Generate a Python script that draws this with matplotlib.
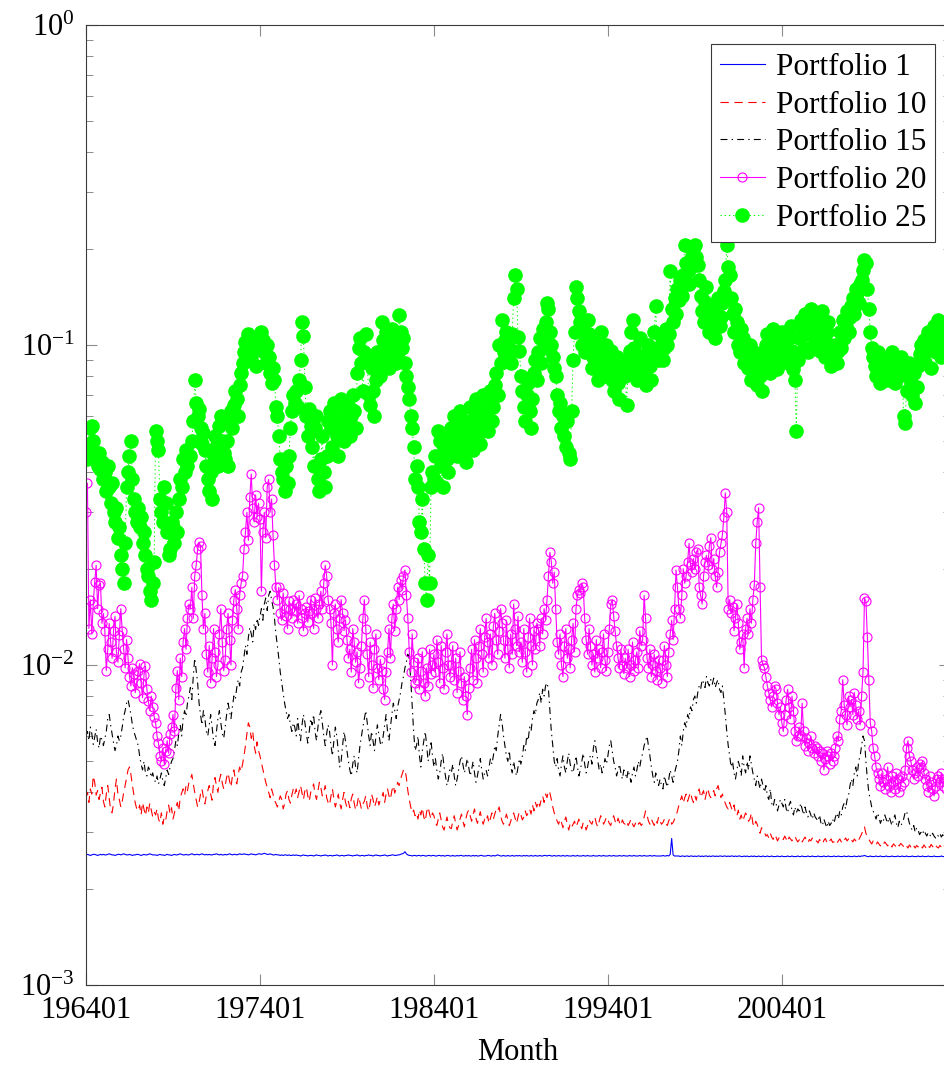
import matplotlib
matplotlib.use("Agg")
import matplotlib.pyplot as plt
import numpy as np
from matplotlib.ticker import NullLocator

# Monthly values from 196401 onward; each row is one calendar year.
# Units: p1, p10, p15 in 1e-5; p20 in 1e-4; p25 in 1e-3.
p1 = [
    255, 256, 255, 254, 255, 256, 256, 255, 254, 255, 256, 255,
    256, 255, 255, 256, 257, 256, 255, 255, 254, 255, 256, 256,
    255, 256, 257, 256, 255, 255, 256, 255, 254, 255, 255, 256,
    256, 255, 254, 255, 256, 255, 255, 256, 257, 256, 255, 255,
    255, 254, 255, 256, 255, 255, 254, 255, 256, 255, 255, 254,
    255, 256, 255, 255, 256, 257, 256, 255, 255, 256, 255, 255,
    256, 257, 256, 255, 256, 256, 255, 256, 257, 256, 255, 256,
    255, 256, 255, 255, 256, 256, 257, 256, 255, 256, 255, 255,
    256, 255, 256, 257, 256, 255, 256, 256, 255, 256, 257, 256,
    256, 257, 256, 256, 255, 256, 257, 256, 256, 255, 256, 257,
    257, 256, 257, 258, 257, 256, 256, 257, 256, 255, 255, 256,
    255, 255, 254, 255, 254, 255, 255, 254, 255, 254, 254, 255,
    254, 255, 254, 254, 253, 254, 255, 254, 254, 253, 254, 254,
    254, 253, 254, 255, 254, 254, 253, 254, 254, 255, 254, 253,
    254, 254, 253, 254, 254, 255, 254, 253, 254, 254, 253, 254,
    254, 255, 254, 254, 253, 254, 254, 255, 254, 253, 254, 254,
    253, 254, 254, 255, 254, 254, 253, 254, 255, 254, 254, 253,
    254, 254, 255, 254, 253, 254, 254, 255, 255, 254, 254, 255,
    255, 256, 257, 258, 261, 257, 255, 254, 254, 253, 254, 254,
    253, 254, 254, 253, 254, 254, 253, 253, 254, 254, 253, 254,
    254, 253, 253, 254, 254, 253, 254, 253, 253, 254, 254, 253,
    253, 254, 253, 253, 254, 253, 254, 254, 253, 253, 254, 253,
    254, 253, 253, 254, 253, 254, 253, 253, 254, 254, 253, 253,
    253, 254, 254, 253, 253, 254, 253, 254, 255, 254, 253, 253,
    254, 253, 253, 254, 253, 253, 254, 253, 253, 254, 253, 254,
    253, 253, 254, 253, 254, 253, 253, 254, 253, 253, 254, 253,
    253, 254, 253, 253, 254, 254, 253, 254, 254, 253, 253, 254,
    253, 253, 254, 253, 253, 254, 253, 253, 254, 253, 253, 253,
    254, 253, 253, 254, 253, 253, 253, 254, 253, 253, 254, 253,
    253, 253, 254, 253, 253, 253, 254, 253, 253, 254, 253, 253,
    253, 254, 253, 253, 254, 253, 253, 253, 254, 253, 253, 254,
    253, 253, 253, 254, 253, 253, 254, 253, 253, 253, 254, 253,
    253, 254, 253, 253, 253, 254, 253, 253, 254, 253, 253, 253,
    253, 253, 254, 253, 253, 254, 253, 256, 287, 255, 253, 253,
    253, 253, 252, 253, 253, 252, 253, 253, 252, 253, 253, 252,
    253, 252, 253, 253, 252, 253, 252, 253, 253, 252, 253, 252,
    253, 253, 252, 253, 252, 253, 253, 252, 253, 253, 252, 253,
    252, 253, 253, 252, 253, 252, 253, 253, 252, 252, 253, 252,
    253, 252, 252, 253, 252, 253, 252, 252, 253, 252, 252, 253,
    252, 252, 253, 252, 252, 253, 252, 252, 252, 253, 252, 252,
    253, 252, 252, 252, 253, 252, 252, 253, 252, 252, 252, 253,
    252, 252, 253, 252, 252, 252, 253, 252, 252, 253, 252, 252,
    252, 253, 252, 252, 252, 253, 252, 252, 253, 252, 252, 252,
    253, 252, 252, 253, 252, 252, 252, 253, 252, 252, 253, 252,
    252, 252, 253, 252, 252, 253, 252, 253, 253, 254, 253, 252,
    252, 253, 252, 252, 252, 253, 252, 252, 253, 252, 252, 252,
    253, 252, 252, 252, 253, 252, 252, 252, 253, 252, 252, 253,
    252, 252, 253, 252, 252, 252, 253, 252, 252, 252, 253, 252,
    252, 253, 252, 252, 252, 253, 252, 252, 252, 253, 252, 252,
    252, 252, 253, 252, 252, 252,
]

p10 = [
    385, 400, 372, 410, 395, 450, 430, 392, 405, 380, 398, 415,
    375, 360, 395, 420, 385, 350, 345, 370, 410, 440, 395, 380,
    360, 375, 400, 420, 445, 470, 480, 455, 420, 395, 370, 355,
    350, 365, 340, 372, 355, 338, 360, 345, 370, 352, 336, 348,
    340, 355, 330, 322, 345, 318, 335, 328, 350, 365, 342, 358,
    330, 345, 360, 372, 350, 385, 398, 410, 392, 420, 405, 430,
    440, 455, 425, 400, 380, 360, 372, 395, 410, 385, 368, 390,
    405, 420, 395, 378, 430, 445, 418, 400, 436, 455, 428, 410,
    420, 445, 460, 435, 415, 450, 470, 440, 425, 455, 480, 465,
    490, 520, 560, 610, 660, 640, 590, 620, 560, 530, 575, 540,
    520, 495, 470, 450, 430, 415, 400, 385, 410, 395, 378, 370,
    360, 375, 390, 380, 355, 368, 395, 405, 380, 370, 392, 410,
    395, 410, 385, 402, 420, 398, 380, 405, 415, 390, 375, 400,
    410, 425, 395, 380, 405, 430, 415, 390, 400, 420, 385, 372,
    365, 390, 410, 380, 360, 375, 395, 370, 355, 380, 400, 372,
    360, 375, 358, 382, 395, 370, 352, 365, 388, 372, 355, 368,
    375, 390, 362, 350, 370, 395, 380, 360, 372, 388, 365, 378,
    385, 400, 372, 395, 410, 390, 380, 405, 420, 398, 412, 430,
    420, 440, 455, 470, 472, 445, 405, 380, 360, 345, 352, 338,
    345, 330, 352, 340, 358, 335, 325, 348, 360, 342, 330, 345,
    338, 322, 315, 330, 345, 328, 312, 305, 320, 335, 318, 310,
    308, 325, 338, 320, 305, 315, 330, 342, 325, 312, 330, 345,
    352, 338, 325, 340, 355, 332, 320, 335, 348, 328, 318, 330,
    325, 338, 320, 332, 345, 330, 342, 355, 350, 360, 338, 325,
    318, 330, 342, 328, 315, 325, 338, 345, 332, 320, 335, 348,
    340, 328, 335, 350, 338, 345, 355, 342, 365, 350, 372, 360,
    375, 362, 380, 390, 372, 395, 385, 405, 398, 380, 360, 345,
    338, 325, 318, 330, 322, 310, 325, 335, 318, 305, 320, 312,
    318, 325, 312, 320, 330, 315, 308, 322, 318, 305, 315, 328,
    322, 318, 330, 335, 320, 312, 325, 338, 330, 318, 325, 335,
    328, 320, 315, 330, 338, 325, 318, 332, 322, 315, 328, 320,
    318, 325, 315, 322, 330, 318, 312, 320, 326, 318, 322, 315,
    320, 335, 350, 340, 325, 318, 330, 322, 315, 328, 320, 335,
    325, 318, 322, 330, 320, 315, 326, 332, 318, 322, 330, 338,
    350, 365, 378, 390, 370, 385, 395, 375, 388, 400, 382, 372,
    390, 378, 400, 410, 385, 395, 405, 380, 398, 412, 392, 385,
    395, 405, 390, 410, 420, 400, 385, 395, 380, 370, 360, 355,
    372, 360, 350, 365, 345, 338, 352, 330, 340, 325, 335, 345,
    338, 325, 330, 345, 320, 312, 325, 318, 305, 298, 310, 302,
    300, 292, 295, 288, 298, 290, 285, 295, 290, 282, 288, 292,
    288, 285, 292, 286, 280, 290, 286, 282, 288, 292, 285, 280,
    284, 288, 280, 285, 290, 283, 278, 285, 282, 288, 284, 280,
    282, 278, 285, 280, 276, 283, 287, 280, 276, 282, 286, 279,
    280, 284, 278, 282, 286, 280, 277, 283, 288, 282, 286, 290,
    284, 280, 286, 282, 288, 284, 290, 296, 305, 312, 298, 290,
    286, 280, 276, 282, 278, 274, 280, 276, 272, 278, 275, 280,
    276, 272, 278, 274, 270, 276, 273, 269, 275, 272, 277, 274,
    271, 276, 272, 268, 274, 270, 276, 272, 268, 273, 270, 275,
    272, 268, 274, 270, 266, 272, 269, 275, 271, 267, 273, 270,
    268, 273, 270, 266, 272, 269,
]

p15 = [
    600, 620, 580, 640, 610, 565, 595, 630, 575, 550, 600, 585,
    560, 590, 620, 680, 700, 650, 610, 570, 540, 560, 600, 580,
    600, 640, 690, 720, 760, 780, 740, 700, 650, 620, 600, 580,
    560, 520, 490, 470, 500, 460, 450, 480, 470, 445, 460, 440,
    430, 450, 425, 440, 460, 435, 420, 445, 470, 455, 480, 500,
    510, 540, 580, 560, 610, 650, 600, 680, 720, 690, 760, 800,
    850, 780, 920, 1050, 960, 880, 760, 700, 650, 720, 680, 620,
    600, 650, 700, 640, 580, 560, 620, 680, 720, 660, 610, 590,
    640, 700, 760, 720, 680, 740, 800, 780, 850, 900, 860, 950,
    980, 1060, 1150, 1080, 1220, 1310, 1250, 1180, 1350, 1290, 1400, 1330,
    1420, 1500, 1380, 1550, 1620, 1480, 1650, 1700, 1600, 1520, 1400, 1250,
    1150, 1050, 950, 880, 820, 760, 720, 680, 700, 650, 620, 660,
    640, 600, 680, 620, 580, 650, 700, 660, 610, 570, 620, 680,
    650, 700, 620, 580, 640, 690, 720, 660, 600, 560, 610, 650,
    620, 560, 520, 580, 640, 600, 540, 480, 500, 560, 620, 580,
    540, 500, 470, 450, 490, 520, 480, 460, 510, 560, 600, 640,
    680, 720, 660, 600, 560, 620, 580, 540, 600, 650, 610, 570,
    560, 600, 650, 700, 620, 580, 640, 700, 760, 720, 680, 740,
    780, 820, 880, 920, 980, 1020, 1080, 1050, 900, 750, 620, 540,
    560, 600, 520, 480, 540, 580, 620, 560, 500, 530, 580, 520,
    480, 510, 470, 440, 460, 500, 530, 480, 450, 420, 440, 470,
    460, 490, 450, 420, 440, 470, 500, 520, 490, 460, 480, 510,
    480, 450, 470, 500, 460, 430, 450, 480, 510, 470, 440, 460,
    470, 450, 480, 510, 490, 520, 560, 540, 600, 650, 700, 660,
    600, 560, 520, 500, 540, 480, 460, 500, 470, 450, 480, 510,
    490, 520, 560, 540, 600, 580, 640, 620, 680, 720, 700, 760,
    780, 820, 760, 840, 800, 860, 880, 840, 720, 620, 560, 500,
    480, 510, 470, 450, 490, 520, 480, 460, 500, 530, 490, 470,
    460, 490, 520, 480, 450, 470, 500, 530, 490, 460, 480, 510,
    520, 490, 550, 580, 540, 500, 470, 490, 460, 480, 510, 490,
    520, 560, 580, 540, 500, 480, 450, 470, 490, 460, 440, 470,
    460, 440, 470, 450, 430, 460, 480, 450, 470, 500, 480, 510,
    530, 560, 580, 600, 560, 520, 480, 450, 430, 460, 440, 420,
    440, 420, 410, 450, 430, 415, 440, 470, 450, 430, 460, 480,
    500, 540, 600, 560, 620, 660, 640, 700, 680, 740, 720, 780,
    800, 760, 820, 860, 840, 900, 880, 850, 920, 880, 860, 900,
    870, 910, 850, 880, 900, 840, 820, 860, 780, 700, 620, 560,
    520, 480, 500, 460, 440, 470, 500, 480, 450, 520, 480, 460,
    500, 470, 520, 490, 460, 440, 420, 450, 430, 410, 440, 420,
    400, 420, 390, 380, 410, 370, 360, 380, 370, 350, 365, 380,
    370, 360, 380, 355, 345, 365, 375, 350, 340, 360, 345, 355,
    350, 370, 355, 340, 360, 345, 335, 350, 340, 330, 345, 335,
    330, 325, 340, 320, 315, 330, 320, 310, 325, 315, 320, 330,
    320, 335, 345, 330, 350, 340, 360, 370, 355, 380, 390, 420,
    440, 420, 460, 480, 450, 500, 520, 560, 600, 580, 500, 440,
    400, 380, 360, 350, 340, 330, 345, 335, 320, 330, 325, 340,
    330, 320, 335, 325, 315, 330, 340, 320, 310, 325, 315, 320,
    330, 345, 350, 335, 320, 310, 305, 315, 300, 310, 305, 295,
    300, 295, 305, 298, 292, 300, 295, 290, 298, 292, 288, 295,
    292, 298, 290, 295, 288, 293,
]

p20 = [
    300, 370, 130, 160, 125, 155, 182, 205, 150, 178, 180, 135,
    145, 128, 96, 112, 135, 118, 105, 128, 142, 110, 102, 124,
    150, 128, 112, 98, 120, 105, 92, 86, 98, 94, 82, 88,
    96, 101, 88, 79, 93, 99, 84, 77, 72, 80, 74, 69,
    66, 60, 57, 52, 50, 55, 49, 54, 58, 53, 61, 64,
    70, 62, 85, 96, 78, 105, 92, 118, 130, 112, 140, 155,
    150, 175, 140, 190, 205, 230, 242, 235, 165, 130, 145, 108,
    95, 115, 88, 105, 130, 110, 92, 100, 125, 150, 118, 96,
    104, 130, 145, 120, 100, 138, 160, 172, 150, 130, 165, 180,
    190, 230, 260, 300, 245, 335, 395, 310, 280, 340, 290, 320,
    285, 170, 260, 300, 250, 360, 380, 300, 330, 255, 205, 175,
    160, 175, 145, 138, 168, 150, 142, 130, 158, 150, 140, 160,
    148, 155, 135, 165, 150, 140, 128, 145, 152, 136, 148, 160,
    145, 130, 162, 150, 140, 155, 170, 150, 180, 205, 190, 160,
    150, 135, 100, 145, 155, 130, 118, 140, 160, 145, 128, 138,
    120, 105, 112, 95, 130, 118, 102, 110, 88, 98, 115, 140,
    160, 130, 108, 92, 118, 100, 85, 112, 125, 98, 90, 104,
    96, 84, 78, 95, 110, 130, 105, 140, 155, 128, 150, 175,
    160, 185, 172, 190, 198, 165, 140, 110, 95, 125, 102, 88,
    90, 105, 84, 96, 110, 88, 80, 98, 86, 112, 94, 100,
    108, 95, 120, 102, 88, 115, 98, 84, 110, 125, 100, 92,
    100, 115, 90, 105, 82, 96, 110, 88, 78, 92, 80, 70,
    85, 98, 112, 90, 120, 105, 88, 115, 130, 108, 95, 122,
    140, 118, 105, 125, 100, 132, 145, 120, 108, 128, 150, 135,
    120, 105, 138, 112, 98, 125, 108, 155, 130, 115, 142, 110,
    118, 102, 130, 110, 95, 122, 140, 115, 100, 128, 112, 135,
    130, 115, 140, 125, 150, 138, 160, 190, 225, 210, 180, 195,
    150, 118, 108, 125, 100, 92, 115, 130, 105, 112, 98, 120,
    135, 110, 150, 165, 172, 168, 180, 175, 140, 120, 108, 130,
    115, 100, 108, 95, 120, 105, 112, 98, 110, 125, 104, 96,
    110, 130, 155, 160, 142, 128, 115, 105, 98, 112, 100, 94,
    105, 98, 112, 92, 100, 118, 96, 104, 110, 98, 128, 115,
    120, 165, 140, 105, 98, 112, 92, 100, 108, 96, 90, 104,
    98, 88, 104, 115, 100, 92, 110, 125, 138, 120, 150, 198,
    175, 150, 140, 165, 200, 180, 190, 210, 240, 205, 195, 215,
    200, 225, 230, 175, 165, 155, 190, 210, 220, 205, 235, 250,
    200, 215, 190, 175, 195, 225, 240, 255, 290, 345, 300, 150,
    160, 145, 152, 128, 140, 155, 135, 112, 118, 125, 98, 130,
    140, 125, 150, 135, 160, 178, 240, 280, 310, 175, 104, 100,
    98, 92, 86, 82, 78, 74, 80, 86, 84, 76, 70, 74,
    66, 62, 70, 78, 84, 74, 68, 80, 72, 62, 58, 60,
    64, 60, 76, 62, 56, 59, 54, 57, 60, 55, 53, 56,
    55, 52, 54, 50, 53, 47, 51, 54, 52, 49, 53, 50,
    52, 55, 60, 58, 68, 72, 90, 75, 70, 65, 80, 74,
    78, 70, 82, 75, 68, 72, 65, 80, 95, 162, 158, 122,
    90, 66, 62, 55, 52, 48, 46, 44, 42, 46, 43, 41,
    44, 48, 42, 40, 45, 43, 41, 46, 44, 40, 42, 45,
    43, 47, 55, 58, 52, 50, 47, 44, 46, 48, 45, 49,
    48, 50, 46, 44, 42, 40, 45, 43, 41, 39, 42, 44,
    45, 43, 46, 42, 44, 41,
]

p25 = [
    47, 44, 46, 55, 56, 50, 44, 45, 42, 46, 41, 43,
    38, 40, 35, 42, 36, 32, 37, 30, 28, 31, 25, 27,
    22, 20, 18, 24, 36, 40, 45, 50, 38, 33, 30, 28,
    31, 27, 29, 24, 26, 22, 20, 19, 17, 16, 18, 21,
    54, 50, 47, 33, 30, 28, 36, 32, 26, 22, 23, 28,
    27, 24, 30, 26, 33, 38, 36, 44, 40, 47, 42, 45,
    45, 50, 58, 78, 66, 60, 63, 55, 49, 53, 47, 42,
    38, 35, 40, 33, 45, 52, 48, 42, 56, 60, 50, 46,
    44, 50, 42, 58, 62, 55, 65, 72, 68, 60, 75, 82,
    88, 95, 102, 92, 108, 98, 90, 104, 96, 86, 99, 106,
    98, 110, 104, 95, 88, 100, 92, 82, 76, 85, 78, 64,
    60, 52, 44, 40, 38, 35, 42, 37, 45, 55, 62, 70,
    66, 72, 64, 78, 90, 118, 107, 74, 60, 52, 63, 56,
    48, 42, 55, 60, 38, 35, 44, 52, 40, 36, 45, 58,
    62, 55, 48, 66, 58, 52, 45, 60, 68, 56, 50, 62,
    58, 65, 52, 60, 70, 62, 55, 82, 98, 105, 88, 72,
    95, 108, 90, 70, 65, 85, 72, 60, 78, 95, 88, 80,
    118, 104, 96, 110, 92, 85, 100, 112, 98, 106, 88, 95,
    124, 110, 98, 105, 88, 80, 74, 68, 60, 55, 48, 38,
    42, 36, 28, 26, 33, 23, 18, 16, 22, 18, 36, 40,
    38, 45, 37, 54, 50, 42, 36, 48, 52, 44, 40, 46,
    55, 48, 60, 52, 45, 58, 62, 50, 47, 55, 43, 49,
    58, 64, 52, 47, 56, 68, 60, 53, 49, 62, 70, 57,
    60, 54, 66, 72, 58, 64, 75, 82, 70, 100, 88, 120,
    95, 104, 110, 92, 98, 88, 108, 140, 165, 150, 106, 96,
    80, 72, 64, 58, 70, 76, 62, 55, 68, 82, 90, 78,
    95, 105, 88, 112, 98, 118, 135, 130, 110, 100, 92, 85,
    80, 70, 62, 66, 55, 60, 52, 48, 58, 46, 44, 62,
    90, 110, 152, 140, 128, 118, 100, 112, 95, 105, 120, 108,
    98, 85, 92, 104, 88, 78, 95, 110, 86, 80, 92, 100,
    88, 82, 96, 78, 72, 85, 92, 76, 68, 80, 90, 84,
    80, 65, 88, 96, 110, 120, 98, 85, 78, 90, 105, 92,
    82, 88, 75, 94, 100, 86, 78, 92, 110, 132, 98, 90,
    96, 105, 90, 98, 112, 100, 108, 170, 130, 118, 140, 125,
    150, 138, 160, 142, 165, 205, 180, 170, 155, 175, 190, 200,
    205, 188, 178, 160, 142, 128, 118, 136, 152, 125, 110, 122,
    130, 118, 105, 125, 140, 115, 122, 135, 148, 160, 205, 175,
    165, 140, 125, 110, 130, 118, 100, 95, 112, 105, 88, 98,
    92, 85, 100, 78, 88, 95, 82, 75, 90, 80, 72, 86,
    95, 100, 108, 88, 82, 96, 112, 104, 90, 84, 98, 106,
    110, 102, 92, 98, 88, 105, 115, 96, 84, 78, 54, 90,
    105, 120, 112, 98, 125, 108, 95, 116, 130, 110, 100, 118,
    122, 108, 96, 115, 128, 104, 92, 110, 118, 100, 86, 98,
    92, 100, 88, 96, 110, 98, 120, 105, 115, 128, 110, 122,
    132, 140, 125, 150, 145, 135, 155, 160, 172, 185, 180, 150,
    130, 110, 98, 92, 86, 80, 95, 88, 76, 90, 84, 78,
    85, 92, 78, 88, 95, 82, 76, 90, 86, 80, 92, 84,
    60, 57, 72, 80, 88, 76, 70, 82, 66, 74, 86, 94,
    100, 92, 104, 88, 96, 110, 98, 85, 102, 115, 95, 108,
    120, 100, 92, 112, 104, 96,
]

tick_months = [0, 120, 240, 360, 480]
tick_labels = ["196401", "197401", "198401", "199401", "200401"]
series_names = ["Portfolio 1", "Portfolio 10", "Portfolio 15",
                "Portfolio 20", "Portfolio 25"]

plt.rcParams["font.family"] = ["Liberation Serif", "DejaVu Serif"]
plt.rcParams["mathtext.fontset"] = "stix"
plt.rcParams["lines.scale_dashes"] = False

months = np.arange(len(p1))
v1 = np.array(p1) * 1e-5
v10 = np.array(p10) * 1e-5
v15 = np.array(p15) * 1e-5
v20 = np.array(p20) * 1e-4
v25 = np.array(p25) * 1e-3

fig = plt.figure(figsize=(9.44, 10.66), dpi=100)
ax = fig.add_axes([86 / 944, 81 / 1066, 864 / 944, 960 / 1066])

ax.plot(months, v1, color=(0, 0, 1), lw=0.8, label=series_names[0])
ax.plot(months, v10, color=(1, 0, 0), lw=0.8, ls=(0, (6, 4)),
        label=series_names[1])
ax.plot(months, v15, color="black", lw=0.8, ls=(0, (5, 3, 1, 3)),
        label=series_names[2])
ax.plot(months, v20, color=(1, 0, 1), lw=0.8, marker="o", ms=6.5,
        mfc="none", mew=0.8, label=series_names[3])
ax.plot(months, v25, color=(0, 1, 0), lw=0.7, ls=(0, (1, 2)),
        marker="o", ms=9.5, mfc=(0, 1, 0), mec=(0, 1, 0),
        label=series_names[4])

ax.set_yscale("log")
ax.set_ylim(1e-3, 1)
ax.set_xlim(0, 596)
ax.set_xticks(tick_months)
ax.set_xticklabels(tick_labels)
ax.xaxis.set_minor_locator(NullLocator())

ax.tick_params(which="both", direction="in", top=True, right=True,
               color="#8c8c8c", labelsize=22)
ax.tick_params(which="major", length=8, width=0.8, pad=8)
ax.tick_params(which="minor", length=5, width=0.7)
for side in ["left", "top", "bottom", "right"]:
    ax.spines[side].set_color("#3a3a3a")
    ax.spines[side].set_linewidth(0.8)

ax.set_xlabel("Month", fontsize=22, labelpad=9)

ax.legend(loc="upper right", bbox_to_anchor=(935 / 944, 1 - 44 / 1066),
          bbox_transform=fig.transFigure, borderaxespad=0, fontsize=22.5,
          fancybox=False, edgecolor="#3a3a3a", framealpha=1,
          handlelength=1.45, handletextpad=0.35, labelspacing=0.28,
          borderpad=0.28)
legend = ax.get_legend()
legend.get_frame().set_linewidth(0.8)

fig.savefig("out.png", dpi=100)
